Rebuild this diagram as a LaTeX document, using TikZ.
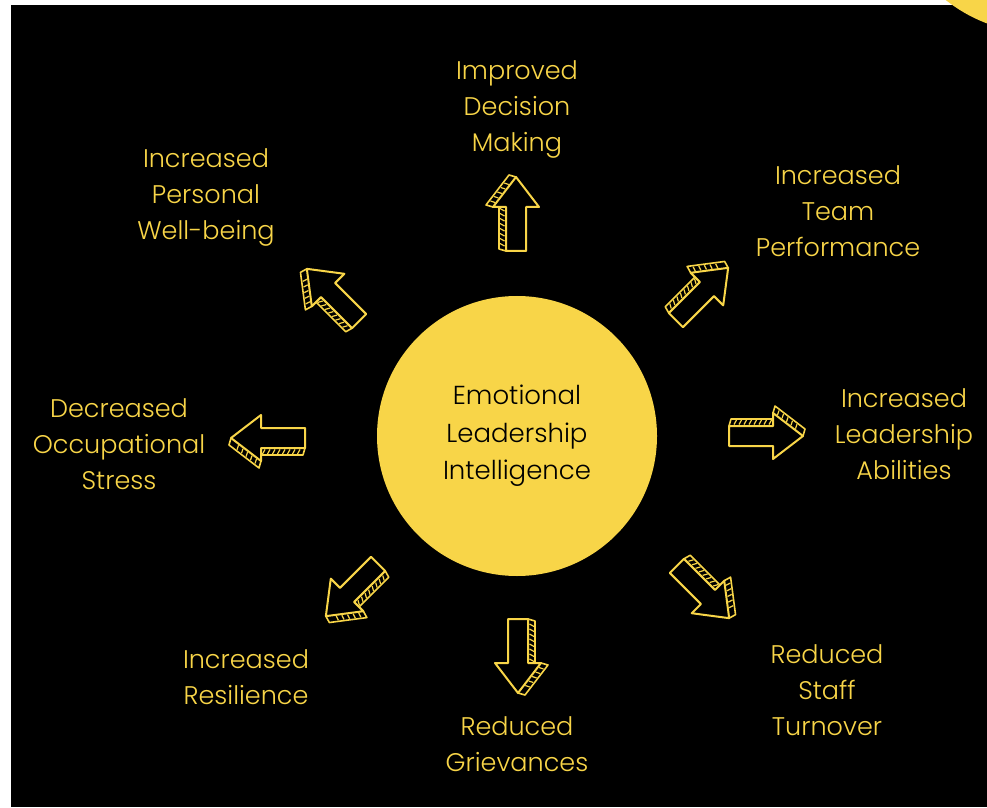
\documentclass[tikz,border=0pt]{standalone}
\usepackage{fontspec}
\setmainfont{Poppins}[UprightFont=* Light]
\usepackage{tikz}

\definecolor{sun}{HTML}{F8D548}

\tikzset{
  outcome/.style={text=sun, align=center, font=\fontsize{25.5}{36}\selectfont},
  hub/.style={circle, fill=sun, minimum size=280pt, align=center,
    font=\fontsize{26}{37.5}\selectfont},
  skarrow/.pic={
    \draw[sun, line width=2pt, line join=round]
      (-37,-10)--(7,-10)--(7,-23)--(37,0)--(7,23)--(7,10)--(-37,10)--cycle;
    \draw[sun, line width=1.6pt, line join=round]
      (-37,10)--(-35,17)--(7,17);
    \draw[sun, line width=1.6pt, line join=round]
      (7,23)--(9,30)--(39,7)--(37,0);
    \foreach \t in {-32,-27,...,3}
      \draw[sun, line width=1.2pt] (\t,11.5)--(\t+2.5,16);
    \foreach \s in {0.15,0.3,...,0.9}
      \draw[sun, line width=1.2pt] ({7+30*\s},{23-23*\s+1.5})--({8.5+30*\s},{23-23*\s+6});
  }
}

\begin{document}
\begin{tikzpicture}[x=1pt,y=1pt]
\useasboundingbox (0,0) rectangle (987,807);
\fill[white] (0,0) rectangle (987,807);
\fill[black] (11,0) rectangle (987,802);
\begin{scope}
\clip (0,0) rectangle (987,807);
\fill[sun] (1040,925) circle (151);
\end{scope}

% centre
\node[hub] (eli) at (517,371) {Emotional\\Leadership\\Intelligence};

% outcomes
\node[outcome] (decision) at (517,698) {Improved\\Decision\\Making};
\node[outcome] (team) at (838,596) {Increased\\Team\\Performance};
\node[outcome] (abilities) at (904,373) {Increased\\Leadership\\Abilities};
\node[outcome] (turnover) at (827,117) {Reduced\\Staff\\Turnover};
\node[outcome] (grievances) at (517,63) {Reduced\\Grievances};
\node[outcome] (resilience) at (246,130) {Increased\\Resilience};
\node[outcome] (stress) at (119,363) {Decreased\\Occupational\\Stress};
\node[outcome] (wellbeing) at (206,610) {Increased\\Personal\\Well-being};

% arrows
\pic[rotate=90] at (516,593) {skarrow};
\pic[rotate=45] at (702,513) {skarrow};
\pic at (766,371) {skarrow};
\pic[rotate=-45] at (703,215) {skarrow};
\pic[rotate=-90] at (518,151) {skarrow};
\pic[rotate=-135] at (352,217) {skarrow};
\pic[rotate=180] at (268,369) {skarrow};
\pic[rotate=135] at (333,512) {skarrow};
\end{tikzpicture}
\end{document}
